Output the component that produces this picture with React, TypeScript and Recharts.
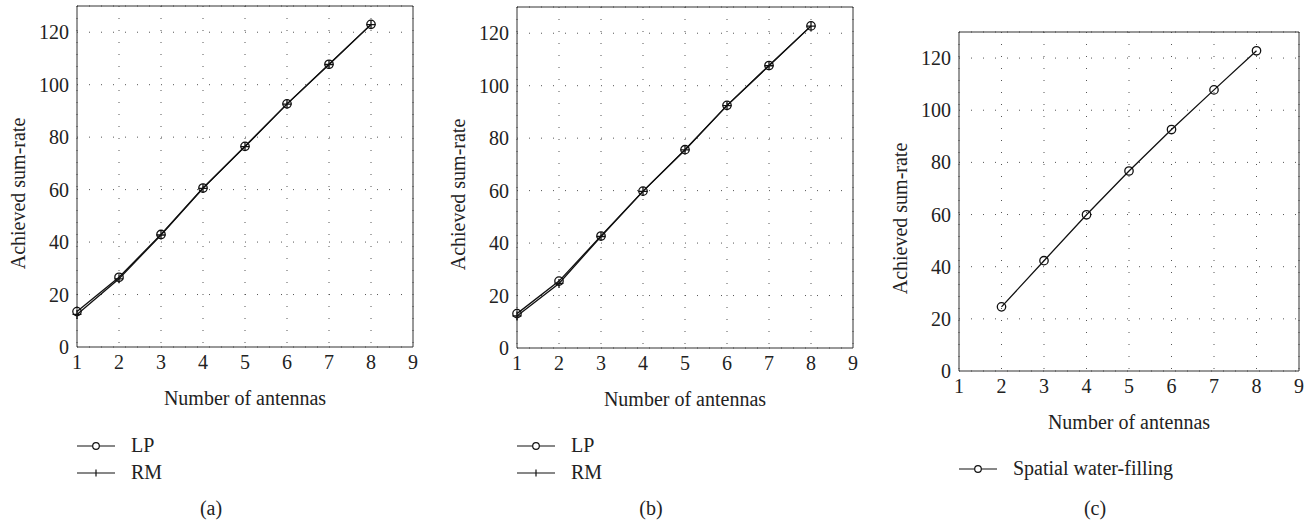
import React from "react";
import { LineChart, Line, XAxis, YAxis, CartesianGrid, Legend, Label } from "recharts";

// values
const antennas = [1, 2, 3, 4, 5, 6, 7, 8];
const lpA = [13.5, 26.6, 42.9, 60.6, 76.5, 92.7, 107.8, 123.0];
const rmA = [12.4, 26.0, 42.7, 60.5, 76.4, 92.6, 107.7, 122.9];
const lpB = [13.1, 25.5, 42.7, 59.8, 75.6, 92.5, 107.7, 122.8];
const rmB = [12.2, 24.6, 42.5, 59.7, 75.5, 92.4, 107.6, 122.7];
const antennasC = [2, 3, 4, 5, 6, 7, 8];
const waterC = [24.6, 42.3, 59.9, 76.7, 92.6, 107.8, 122.8];

const xTicks = [1, 2, 3, 4, 5, 6, 7, 8, 9];
const yTicks = [0, 20, 40, 60, 80, 100, 120];

const FONT = "Liberation Serif, DejaVu Serif, serif";
const INK = "#222";
const FRAME = "#333";
const DOTS = "#555";

const dataA = antennas.map((n, i) => ({ n, lp: lpA[i], rm: rmA[i] }));
const dataB = antennas.map((n, i) => ({ n, lp: lpB[i], rm: rmB[i] }));
const dataC = antennasC.map((n, i) => ({ n, swf: waterC[i] }));

type Series = { key: string; name: string; marker: "circle" | "plus" };

const tickStyle = { fontFamily: FONT, fontSize: 20, fill: INK };

const plusDot = (p: any) => {
  const { cx, cy, index } = p;
  return <path key={`p${index}`} d={`M${cx - 4.5},${cy}h9M${cx},${cy - 4.5}v9`} stroke="#111" strokeWidth={1.3} fill="none" />;
};

function LegendMark({ marker }: { marker: string }) {
  return (
    <svg width={40} height={12} style={{ display: "block" }}>
      <line x1={0} x2={38} y1={6} y2={6} stroke="#111" strokeWidth={1.2} />
      {marker === "circle" ? (
        <circle cx={19} cy={6} r={3.3} fill="#fff" stroke="#111" strokeWidth={1.2} />
      ) : (
        <path d="M19,2.5v7" stroke="#111" strokeWidth={1.2} />
      )}
    </svg>
  );
}

function Panel({ left, plotTop, plotWidth, plotHeight, data, series, caption, legendTop }: {
  left: number; plotTop: number; plotWidth: number; plotHeight: number;
  data: any[]; series: Series[]; caption: string; legendTop: number;
}) {
  const yAxisW = 77;
  const xAxisH = 60;
  const width = yAxisW + plotWidth + 20;
  const height = 522;
  const markers: Record<string, string> = {};
  series.forEach((s) => (markers[s.name] = s.marker));

  return (
    <div style={{ position: "absolute", left, top: 0, width, height }}>
      <LineChart width={width} height={height} data={data} style={{ fontFamily: FONT }}
        margin={{ top: plotTop, right: 20, left: 0, bottom: height - plotTop - plotHeight - xAxisH }}>
        <CartesianGrid horizontal={false} stroke={DOTS} strokeDasharray="1 11" />
        <CartesianGrid vertical={false} stroke={DOTS} strokeDasharray="1 11" />
        <XAxis dataKey="n" type="number" domain={[1, 9]} ticks={xTicks} height={xAxisH} tickLine={false} tickSize={6}
          axisLine={{ stroke: FRAME }} tick={tickStyle} interval={0}>
          <Label value="Number of antennas" position="insideBottom" offset={2}
            style={{ fontFamily: FONT, fontSize: 20, fill: INK }} />
        </XAxis>
        <YAxis type="number" domain={[0, 130]} ticks={yTicks} width={yAxisW} tickLine={false} tickSize={6}
          axisLine={{ stroke: FRAME }} tick={tickStyle} interval={0}>
          <Label content={(p: any) => {
            const vb = p.viewBox;
            const cx = vb.x + 18;
            const cy = vb.y + vb.height / 2 + 17;
            return (
              <text x={cx} y={cy} transform={`rotate(-90 ${cx} ${cy})`} textAnchor="middle" dominantBaseline="central"
                style={{ fontFamily: FONT, fontSize: 20, fill: INK }}>Achieved sum-rate</text>
            );
          }} />
        </YAxis>
        {/* inward ticks and the frame on all four sides */}
        <XAxis xAxisId="top" orientation="top" mirror type="number" domain={[1, 9]} ticks={xTicks}
          tick={false} tickSize={4} tickLine={{ stroke: FRAME }} axisLine={{ stroke: FRAME }} />
        <XAxis xAxisId="bottomIn" orientation="bottom" mirror type="number" domain={[1, 9]} ticks={xTicks}
          tick={false} tickSize={4} tickLine={{ stroke: FRAME }} axisLine={false} />
        <YAxis yAxisId="right" orientation="right" mirror type="number" domain={[0, 130]} ticks={yTicks}
          tick={false} tickSize={4} tickLine={{ stroke: FRAME }} axisLine={{ stroke: FRAME }} />
        <YAxis yAxisId="leftIn" orientation="left" mirror type="number" domain={[0, 130]} ticks={yTicks}
          tick={false} tickSize={4} tickLine={{ stroke: FRAME }} axisLine={false} />
        {series.map((s) => (
          <Line key={s.key} dataKey={s.key} name={s.name} type="linear" stroke="#111" strokeWidth={1.3}
            isAnimationActive={false}
            dot={s.marker === "circle" ? { r: 4.2, fill: "none", stroke: "#111", strokeWidth: 1.3 } : plusDot}
            activeDot={false} />
        ))}
        <Legend layout="vertical" align="center" verticalAlign="middle"
          wrapperStyle={{ left: yAxisW, top: legendTop }}
          content={(props: any) => (
            <div>
              {(props.payload || []).map((entry: any) => (
                <div key={entry.value} style={{ display: "flex", alignItems: "center", height: 27 }}>
                  <LegendMark marker={markers[entry.value]} />
                  <span style={{ marginLeft: 14, fontFamily: FONT, fontSize: 20, color: INK }}>{entry.value}</span>
                </div>
              ))}
            </div>
          )} />
      </LineChart>
      <div style={{ position: "absolute", left: yAxisW + plotWidth / 2 - 34 - 40, width: 80, top: 495,
        textAlign: "center", fontFamily: FONT, fontSize: 20, color: INK, lineHeight: "26px" }}>{caption}</div>
    </div>
  );
}

export default function App() {
  return (
    <div style={{ position: "absolute", left: 0, top: 0, width: 1313, height: 522, background: "#fff", fontFamily: FONT }}>
      <Panel left={0} plotTop={6} plotWidth={336} plotHeight={341} data={dataA} caption="(a)" legendTop={432}
        series={[{ key: "lp", name: "LP", marker: "circle" }, { key: "rm", name: "RM", marker: "plus" }]} />
      <Panel left={440} plotTop={7} plotWidth={336} plotHeight={341} data={dataB} caption="(b)" legendTop={432}
        series={[{ key: "lp", name: "LP", marker: "circle" }, { key: "rm", name: "RM", marker: "plus" }]} />
      <Panel left={882} plotTop={32} plotWidth={340} plotHeight={339} data={dataC} caption="(c)" legendTop={455}
        series={[{ key: "swf", name: "Spatial water-filling", marker: "circle" }]} />
    </div>
  );
}
